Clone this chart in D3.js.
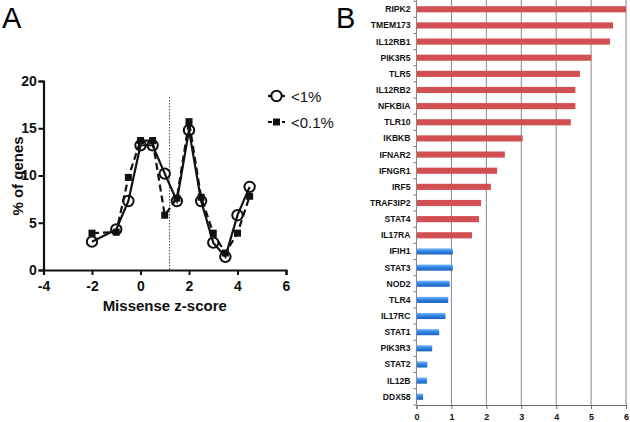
<!DOCTYPE html>
<html>
<head>
  <meta charset="utf-8">
  <style type="text/css">
    body { margin: 0; background: #fff; }
    svg { font-family: Arial, "Liberation Sans", sans-serif; }
  </style>
</head>
<body>
  <script type="text/javascript" src="https://cdn.jsdelivr.net/npm/d3@7"></script>
  <script type="text/javascript">
    var w = 630;
    var h = 422;

    // panel A data
    var zScores = [-2, -1, -0.5, 0, 0.5, 1, 1.5, 2, 2.5, 3, 3.5, 4, 4.5];
    var pct1 = [3.0, 4.3, 7.3, 13.2, 13.2, 10.2, 7.3, 14.8, 7.3, 2.9, 1.4, 5.8, 8.8];
    var pct01 = [3.9, 4.0, 9.8, 13.7, 13.7, 5.8, 7.6, 15.7, 7.7, 3.9, 1.8, 3.9, 7.8];
    var xTicksA = [-4, -2, 0, 2, 4, 6];
    var yTicksA = [0, 5, 10, 15, 20];
    var cutoff = 1.2;

    // panel B data
    var genes = ["RIPK2", "TMEM173", "IL12RB1", "PIK3R5", "TLR5", "IL12RB2", "NFKBIA", "TLR10",
      "IKBKB", "IFNAR2", "IFNGR1", "IRF5", "TRAF3IP2", "STAT4", "IL17RA",
      "IFIH1", "STAT3", "NOD2", "TLR4", "IL17RC", "STAT1", "PIK3R3", "STAT2", "IL12B", "DDX58"];
    var geneValues = [6.0, 5.63, 5.54, 5.01, 4.68, 4.55, 4.55, 4.42,
      3.04, 2.53, 2.31, 2.13, 1.85, 1.79, 1.59,
      1.04, 1.04, 0.95, 0.91, 0.83, 0.65, 0.45, 0.31, 0.30, 0.19];
    var redCount = 15;
    var xTicksB = [0, 1, 2, 3, 4, 5, 6];

    var svg = d3.select("body").append("svg")
      .attr("width", w).attr("height", h);

    var defs = svg.append("defs");
    var grad = defs.append("linearGradient").attr("id", "blueGrad")
      .attr("x1", 0).attr("y1", 0).attr("x2", 0).attr("y2", 1);
    grad.append("stop").attr("offset", "0%").attr("stop-color", "#7db8f5");
    grad.append("stop").attr("offset", "45%").attr("stop-color", "#2f86e8");
    grad.append("stop").attr("offset", "100%").attr("stop-color", "#1a5fc0");

    // ---- panel A ----
    svg.append("text").attr("x", 2).attr("y", 28)
      .attr("font-size", 29).text("A");

    var xA = d3.scaleLinear().domain([-4, 6]).range([43.5, 286]);
    var yA = d3.scaleLinear().domain([0, 20]).range([270, 81]);

    var gxA = svg.append("g").attr("transform", "translate(0," + yA(0) + ")")
      .call(d3.axisBottom(xA).tickValues(xTicksA).tickSize(5).tickFormat(function (d) { return String(d); }));
    var gyA = svg.append("g").attr("transform", "translate(" + xA(-4) + ",0)")
      .call(d3.axisLeft(yA).tickValues(yTicksA).tickSize(5));
    [gxA, gyA].forEach(function (g) {
      g.select(".domain").attr("stroke", "#111").attr("stroke-width", 2.2);
      g.selectAll(".tick line").attr("stroke", "#111").attr("stroke-width", 2);
      g.selectAll(".tick text").attr("font-size", 14).attr("font-weight", "bold")
        .attr("fill", "#111").attr("font-family", "Arial, 'Liberation Sans', sans-serif");
    });
    gxA.selectAll(".tick text").attr("dy", "0.95em");
    gyA.selectAll(".tick text").attr("dx", "0.1em");

    svg.append("text").attr("transform", "translate(23,176) rotate(-90)")
      .attr("text-anchor", "middle").attr("font-size", 15).attr("font-weight", "bold")
      .attr("fill", "#111").text("% of genes");
    svg.append("text").attr("x", xA(1)).attr("y", 311)
      .attr("text-anchor", "middle").attr("font-size", 15).attr("font-weight", "bold")
      .attr("fill", "#111").text("Missense z-score");

    svg.append("line")
      .attr("x1", xA(cutoff)).attr("x2", xA(cutoff))
      .attr("y1", 97).attr("y2", yA(0))
      .attr("stroke", "#444").attr("stroke-width", 1).attr("stroke-dasharray", "1.5,1.5");

    var lineA = d3.line()
      .x(function (d, i) { return xA(zScores[i]); })
      .y(function (d) { return yA(d); });

    svg.append("path").datum(pct01).attr("d", lineA)
      .attr("fill", "none").attr("stroke", "#111").attr("stroke-width", 2.2)
      .attr("stroke-dasharray", "7,4");
    svg.selectAll(".sq").data(pct01).enter().append("rect")
      .attr("x", function (d, i) { return xA(zScores[i]) - 3.5; })
      .attr("y", function (d) { return yA(d) - 3.5; })
      .attr("width", 7).attr("height", 7).attr("fill", "#111");

    svg.append("path").datum(pct1).attr("d", lineA)
      .attr("fill", "none").attr("stroke", "#111").attr("stroke-width", 2.2);
    svg.selectAll(".circ").data(pct1).enter().append("circle")
      .attr("cx", function (d, i) { return xA(zScores[i]); })
      .attr("cy", function (d) { return yA(d); })
      .attr("r", 5.2).attr("fill", "none").attr("stroke", "#111").attr("stroke-width", 2);

    // legend
    var lg = svg.append("g").attr("transform", "translate(268,96)");
    lg.append("line").attr("x1", 0).attr("x2", 17).attr("y1", 0).attr("y2", 0)
      .attr("stroke", "#111").attr("stroke-width", 2.2);
    lg.append("circle").attr("cx", 8.5).attr("cy", 0).attr("r", 5.2)
      .attr("fill", "#fff").attr("stroke", "#111").attr("stroke-width", 2);
    lg.append("text").attr("x", 23).attr("y", 5.5).attr("font-size", 15)
      .attr("fill", "#111").text("<1%");
    lg.append("line").attr("x1", 0).attr("x2", 17).attr("y1", 26).attr("y2", 26)
      .attr("stroke", "#111").attr("stroke-width", 2.2).attr("stroke-dasharray", "4,3");
    lg.append("rect").attr("x", 5).attr("y", 22.5).attr("width", 7).attr("height", 7).attr("fill", "#111");
    lg.append("text").attr("x", 23).attr("y", 31.5).attr("font-size", 15)
      .attr("fill", "#111").text("<0.1%");

    // ---- panel B ----
    svg.append("text").attr("x", 336).attr("y", 28)
      .attr("font-size", 29).text("B");

    var xB = d3.scaleLinear().domain([0, 6]).range([416.5, 626]);
    var yB = d3.scaleBand().domain(genes).range([1.2, 404.8]).paddingInner(0.62).paddingOuter(0.31);

    svg.append("g").selectAll("line").data(xTicksB.slice(1)).enter().append("line")
      .attr("x1", function (d) { return xB(d); }).attr("x2", function (d) { return xB(d); })
      .attr("y1", 0).attr("y2", 405)
      .attr("stroke", "#888").attr("stroke-width", 1);

    svg.append("g").selectAll("rect").data(geneValues).enter().append("rect")
      .attr("x", xB(0))
      .attr("y", function (d, i) { return yB(genes[i]); })
      .attr("width", function (d) { return xB(d) - xB(0); })
      .attr("height", yB.bandwidth())
      .attr("fill", function (d, i) { return i < redCount ? "#d24f52" : "url(#blueGrad)"; });

    var gxB = svg.append("g").attr("transform", "translate(0,405)")
      .call(d3.axisBottom(xB).tickValues(xTicksB).tickSize(4).tickFormat(d3.format("d")));
    gxB.select(".domain").attr("stroke", "#666");
    gxB.selectAll(".tick line").attr("stroke", "#666");
    gxB.selectAll(".tick text").attr("font-size", 9).attr("font-weight", "bold")
      .attr("fill", "#111").attr("dy", "0.9em")
      .attr("font-family", "Arial, 'Liberation Sans', sans-serif");

    // left axis with ticks between categories
    var step = yB.step();
    var tickPos = genes.map(function (g) { return yB(g) - step * 0.31; });
    tickPos.push(405);
    svg.append("line").attr("x1", xB(0)).attr("x2", xB(0)).attr("y1", 0).attr("y2", 405)
      .attr("stroke", "#888");
    svg.append("g").selectAll("line").data(tickPos).enter().append("line")
      .attr("x1", xB(0) - 3).attr("x2", xB(0))
      .attr("y1", function (d) { return d; }).attr("y2", function (d) { return d; })
      .attr("stroke", "#777");

    svg.append("g").selectAll("text").data(genes).enter().append("text")
      .attr("x", xB(0) - 6)
      .attr("y", function (d) { return yB(d) + yB.bandwidth() / 2; })
      .attr("dy", "0.35em").attr("text-anchor", "end")
      .attr("font-size", 8.6).attr("font-weight", "bold").attr("fill", "#111")
      .text(function (d) { return d; });
  </script>
</body>
</html>
